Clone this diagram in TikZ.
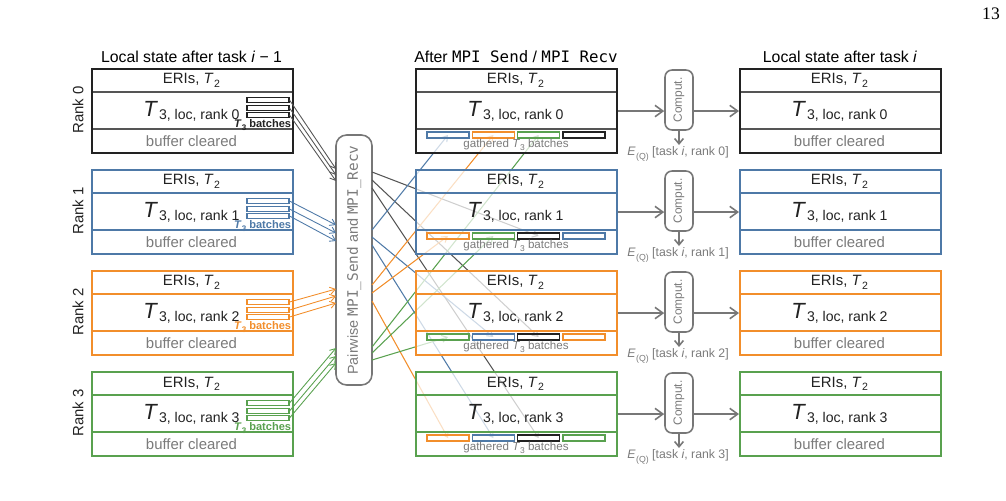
\documentclass[tikz,border=0pt]{standalone}
\usepackage{fontspec}
\setmainfont{Liberation Sans}
\setmonofont{DejaVu Sans Mono}
\newfontfamily\pgserif{Liberation Serif}
\usetikzlibrary{arrows.meta,calc}

\definecolor{rk0}{HTML}{222222}
\definecolor{rk0l}{HTML}{555555}
\definecolor{rk1}{HTML}{4E79A7}
\definecolor{rk2}{HTML}{F28E2B}
\definecolor{rk3}{HTML}{59A14F}
\definecolor{tgray}{HTML}{7B7B7B}
\definecolor{agray}{HTML}{777777}

\newcommand{\Tsm}[1]{\textit{T}\kern0.3pt\raisebox{-0.22em}{\fontsize{6}{6}\selectfont #1}}
\newcommand{\Tlg}[1]{{\fontsize{12.5}{12}\selectfont\textit{T}}\kern0.5pt\raisebox{-1.6pt}{\fontsize{8}{8}\selectfont #1}}
\newcommand{\EQ}{\textit{E}\kern0.3pt\raisebox{-0.3em}{\fontsize{5}{5}\selectfont (Q)}}

\tikzset{
  txt/.style={inner sep=0pt, text=rk0},
  fs85/.style={font=\fontsize{8.5}{10}\selectfont},
  blkborder/.style={draw=#1, line width=1.2pt, minimum width=4.02cm, minimum height=1.68cm, inner sep=0pt, anchor=north west},
  sepline/.style={draw=#1, line width=0.6pt},
  batch/.style={draw=#1, line width=0.6pt, fill=white, minimum width=0.84cm, minimum height=0.11cm, inner sep=0pt},
  gbatch/.style={draw=#1, line width=0.7pt, minimum width=0.84cm, minimum height=0.12cm, inner sep=0pt},
  inarrow/.style={draw=#1, line width=0.5pt, -{Straight Barb[length=3pt,width=4pt]}},
  outarrow/.style={draw=#1, line width=0.6pt, -{Straight Barb[length=3pt,width=4pt]}},
  flowarrow/.style={draw=agray, line width=0.9pt, -{Straight Barb[length=4.5pt,width=6.5pt]}},
  smallflow/.style={draw=agray, line width=0.9pt, -{Straight Barb[length=3pt,width=5pt]}},
  compbox/.style={draw=agray, line width=0.9pt, rounded corners=4pt, minimum width=0.56cm, minimum height=1.2cm, inner sep=0pt, fill=white},
  pwbox/.style={draw=agray, line width=0.9pt, rounded corners=6pt, minimum width=0.72cm, minimum height=5cm, inner sep=0pt, fill=white},
  titletxt/.style={inner sep=0pt, anchor=base, font=\fontsize{9}{11}\selectfont, text=black},
}

% #1 name, #2 x, #3 top, #4 border colour, #5 separator colour, #6 rank, #7 fill opacity
\newcommand{\stblock}[7]{%
  \fill[white, fill opacity=#7] (#2,#3) rectangle ++(201,84);
  \draw[sepline=#5] (#2,#3+24) -- ++(201,0) (#2,#3+61) -- ++(201,0);
  \node[blkborder=#4] (#1) at (#2,#3) {};
  \node[txt,fs85] (#1-eri) at (#2+100.5,#3+12.5) {ERIs, \Tsm{2}};
  \node[txt] (#1-t3) at (#2+100.5,#3+43) {\Tlg{3, loc, rank #6}};
}

\begin{document}
\begin{tikzpicture}[x=0.02cm,y=-0.02cm]
\useasboundingbox (0,0) rectangle (1006,500);

% page number
\node[inner sep=0pt, font=\pgserif\fontsize{10}{12}\selectfont] (pg) at (991,14) {13};

% titles
\node[titletxt] (tL) at (191.5,63) {Local state after task \textit{i} − 1};
\node[titletxt] (tM) at (516,63) {After \texttt{MPI Send} / \texttt{MPI Recv}};
\node[titletxt] (tR) at (840,63) {Local state after task \textit{i}};

% left blocks
\foreach \r/\top/\col/\sep in {0/68/rk0/rk0l,1/169/rk1/rk1,2/270/rk2/rk2,3/371/rk3/rk3}{
  \stblock{L\r}{91}{\top}{\col}{\sep}{\r}{1}
  \node[txt,fs85,text=tgray] (L\r-buf) at (191.5,\top+73) {buffer cleared};
  \node[txt, rotate=90, font=\fontsize{8.5}{10}\selectfont] (rl\r) at (78,\top+42) {Rank \r};
  \node[batch=\col] (L\r-b0) at (268,\top+32) {};
  \node[batch=\col] (L\r-b1) at (268,\top+40) {};
  \node[batch=\col] (L\r-b2) at (268,\top+47) {};
  \node[txt, anchor=east, text=\col, font=\bfseries\fontsize{6.3}{7}\selectfont] (L\r-bl) at (291.5,\top+57)
     {\textit{T}\raisebox{-0.25em}{\fontsize{4.6}{5}\selectfont 3} batches};
}

% pairwise node
\node[pwbox] (P) at (354,260) {\rotatebox{90}{\textcolor{tgray}{\fontsize{8.2}{10}\selectfont Pairwise \texttt{MPI\_Send} and \texttt{MPI\_Recv}}}};

% incoming arrows
\foreach \r/\col/\ya/\yb/\yc in {0/rk0l/169/175/181,1/rk1/225/233/241,2/rk2/289/296/303,3/rk3/348/356/363}{
  \coordinate (pi\r0) at (336,\ya);
  \coordinate (pi\r1) at (336,\yb);
  \coordinate (pi\r2) at (336,\yc);
  \draw[inarrow=\col] (L\r-b0.east) -- (pi\r0);
  \draw[inarrow=\col] (L\r-b1.east) -- (pi\r1);
  \draw[inarrow=\col] (L\r-b2.east) -- (pi\r2);
}

% gathered slot centres
\foreach \t/\top in {0/68,1/169,2/270,3/371}{
  \foreach \k in {0,1,2,3}{
    \coordinate (gc\t\k) at (448+45.33*\k,\top+67);
  }
}

% outgoing lines
\foreach \s/\t/\k/\ys/\col in {0/1/2/172/rk0l,0/2/2/180/rk0l,0/3/2/188/rk0l,
  1/0/0/230/rk1,1/2/1/237/rk1,1/3/1/245/rk1,
  2/0/1/285/rk2,2/1/0/293/rk2,2/3/0/301/rk2,
  3/0/2/347/rk3,3/1/1/353/rk3,3/2/0/360/rk3}{
  \coordinate (po\s\t) at (372,\ys);
  \draw[outarrow=\col] (po\s\t) -- (gc\t\k);
}

% middle blocks
\foreach \r/\top/\col/\sep/\ga/\gb/\gc/\gd in {0/68/rk0/rk0l/rk1/rk2/rk3/rk0,
   1/169/rk1/rk1/rk2/rk3/rk0/rk1,
   2/270/rk2/rk2/rk3/rk1/rk0/rk2,
   3/371/rk3/rk3/rk2/rk1/rk0/rk3}{
  \stblock{M\r}{415}{\top}{\col}{\sep}{\r}{0.72}
  \node[gbatch=\ga] (M\r-g0) at (gc\r0) {};
  \node[gbatch=\gb] (M\r-g1) at (gc\r1) {};
  \node[gbatch=\gc] (M\r-g2) at (gc\r2) {};
  \node[gbatch=\gd] (M\r-g3) at (gc\r3) {};
  \node[txt, text=tgray, font=\fontsize{6.6}{8}\selectfont] (M\r-gl) at (516,\top+77)
     {gathered \textit{T}\raisebox{-0.25em}{\fontsize{4.8}{5}\selectfont 3} batches};
}

% right blocks, computation
\foreach \r/\top/\col/\sep in {0/68/rk0/rk0l,1/169/rk1/rk1,2/270/rk2/rk2,3/371/rk3/rk3}{
  \stblock{R\r}{739}{\top}{\col}{\sep}{\r}{1}
  \node[txt,fs85,text=tgray] (R\r-buf) at (839.5,\top+73) {buffer cleared};
  \node[compbox] (C\r) at (679,\top+32) {\rotatebox{90}{\textcolor{tgray}{\fontsize{6.8}{8}\selectfont Comput.}}};
  \draw[flowarrow] (M\r.east) -- (M\r.east -| C\r.west);
  \draw[flowarrow] (C\r.east |- R\r.west) -- (R\r.west);
  \coordinate (Ed\r) at (679,\top+77);
  \draw[smallflow] (C\r.south) -- (Ed\r);
  \node[txt, text=tgray, font=\fontsize{7}{8}\selectfont] (E\r) at (678,\top+86)
     {\EQ{} [task \textit{i}, rank \r]};
}
\end{tikzpicture}
\end{document}
